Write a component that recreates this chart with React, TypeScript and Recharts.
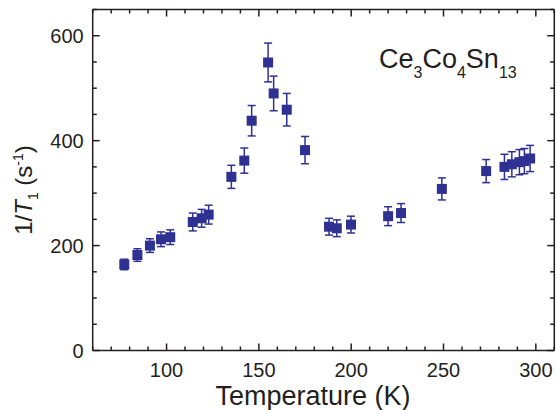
import { ScatterChart, Scatter, XAxis, YAxis, ErrorBar, ReferenceLine } from 'recharts';

// 1/T1 relaxation rate vs temperature, Ce3Co4Sn13
const temperature = [77.1, 84.2, 91.0, 97.0, 102.0, 114.2, 119.0, 122.8, 135.1, 142.1, 146.1, 155.0, 158.0, 165.1, 175.0, 188.0, 192.2, 199.9, 220.0, 227.0, 249.1, 273.1, 283.0, 287.0, 291.1, 293.8, 296.9];
const rate = [164, 182, 200, 212, 216, 245, 252, 259, 331, 362, 438, 549, 490, 459, 382, 236, 233, 240, 256, 262, 308, 342, 350, 355, 359, 361, 366];
const rateErr = [10, 12, 13, 14, 14, 17, 17, 18, 22, 24, 29, 37, 33, 31, 26, 16, 16, 16, 18, 18, 21, 22, 24, 24, 24, 24, 25];

const xTicks = [60, 70, 80, 90, 100, 110, 120, 130, 140, 150, 160, 170, 180, 190, 200, 210, 220, 230, 240, 250, 260, 270, 280, 290, 300, 310];
const xLabels = [100, 150, 200, 250, 300];
const yTicks = [0, 50, 100, 150, 200, 250, 300, 350, 400, 450, 500, 550, 600, 650];
const yLabels = [0, 200, 400, 600];

const points = temperature.map((t, i) => ({ t, r: rate[i], err: rateErr[i] }));

const X_MIN = 60, X_MAX = 310, Y_MIN = 0, Y_MAX = 650;
const INK = '#231f20';
const BLUE = '#2e3192';
const FONT = '"Liberation Sans", Arial, sans-serif';

// inward tick lengths, in axis units (~7px major, ~4px minor)
const yLen = (major: boolean) => (major ? 13.3 : 7.6);
const xLen = (major: boolean) => (major ? 3.8 : 2.2);

const XLabel = ({ x, y, payload }: any) =>
    xLabels.includes(payload.value) ? (
        <text x={x} y={y + 26} textAnchor="middle" fontSize={20} fill={INK} fontFamily={FONT}>{payload.value}</text>
    ) : <g />;

const YLabel = ({ x, y, payload }: any) =>
    yLabels.includes(payload.value) ? (
        <text x={x - 9} y={y + 7} textAnchor="end" fontSize={20} fill={INK} fontFamily={FONT}>{payload.value}</text>
    ) : <g />;

const Square = ({ cx, cy }: any) => <rect x={cx - 5} y={cy - 5} width={10} height={10} fill={BLUE} />;

const frame = { stroke: INK, strokeWidth: 1.5 };

export default function App() {
    return (
        <div style={{ position: 'absolute', left: 0, top: 0, width: 556, height: 410, background: '#fff' }}>
            <ScatterChart width={556} height={410} margin={{ top: 0, right: 0, bottom: 0, left: 0 }}>
                <XAxis type="number" dataKey="t" domain={[X_MIN, X_MAX]} ticks={xTicks} interval={0} height={59.5}
                    tickSize={0} tickMargin={0} tickLine={false} axisLine={frame} tick={(p: any) => <XLabel {...p} />} />
                <XAxis xAxisId="top" orientation="top" type="number" domain={[X_MIN, X_MAX]} height={9.5}
                    tickLine={false} tick={false} axisLine={frame} />
                <YAxis type="number" dataKey="r" domain={[Y_MIN, Y_MAX]} ticks={yTicks} interval={0} width={92.7}
                    tickSize={0} tickMargin={0} tickLine={false} axisLine={frame} tick={(p: any) => <YLabel {...p} />} />
                <YAxis yAxisId="right" orientation="right" type="number" domain={[Y_MIN, Y_MAX]} width={1.7}
                    tickLine={false} tick={false} axisLine={frame} />

                {/* inward tick marks on all four sides */}
                {xTicks.map((v) => {
                    const m = xLabels.includes(v);
                    return [
                        <ReferenceLine key={`b${v}`} segment={[{ x: v, y: Y_MIN }, { x: v, y: Y_MIN + yLen(m) }]} stroke={INK} strokeWidth={1.5} />,
                        <ReferenceLine key={`t${v}`} segment={[{ x: v, y: Y_MAX }, { x: v, y: Y_MAX - yLen(m) }]} stroke={INK} strokeWidth={1.5} />,
                    ];
                })}
                {yTicks.map((v) => {
                    const m = yLabels.includes(v);
                    return [
                        <ReferenceLine key={`l${v}`} segment={[{ x: X_MIN, y: v }, { x: X_MIN + xLen(m), y: v }]} stroke={INK} strokeWidth={1.5} />,
                        <ReferenceLine key={`r${v}`} segment={[{ x: X_MAX, y: v }, { x: X_MAX - xLen(m), y: v }]} stroke={INK} strokeWidth={1.5} />,
                    ];
                })}

                <Scatter data={points} shape={(p: any) => <Square {...p} />} fill={BLUE} isAnimationActive={false}>
                    <ErrorBar dataKey="err" direction="y" width={4} stroke={BLUE} strokeWidth={1.5} isAnimationActive={false} />
                </Scatter>

                {/* axis titles and compound label */}
                <text x={313} y={405} textAnchor="middle" fontSize={27} fill={INK} fontFamily={FONT}>Temperature (K)</text>
                <text transform="translate(32,190) rotate(-90)" textAnchor="middle" fontSize={24} fill={INK} fontFamily={FONT}>
                    1/<tspan fontStyle="italic">T</tspan>
                    <tspan fontSize={14} dy={6}>1</tspan>
                    <tspan dy={-6}> (s</tspan>
                    <tspan fontSize={14} dy={-9}>-1</tspan>
                    <tspan dy={9}>)</tspan>
                </text>
                <text x={379} y={68} fontSize={27} fill={INK} fontFamily={FONT}>
                    Ce<tspan fontSize={16} dy={10}>3</tspan>
                    <tspan dy={-10}>Co</tspan>
                    <tspan fontSize={16} dy={10}>4</tspan>
                    <tspan dy={-10}>Sn</tspan>
                    <tspan fontSize={16} dy={10}>13</tspan>
                </text>
            </ScatterChart>
        </div>
    );
}
